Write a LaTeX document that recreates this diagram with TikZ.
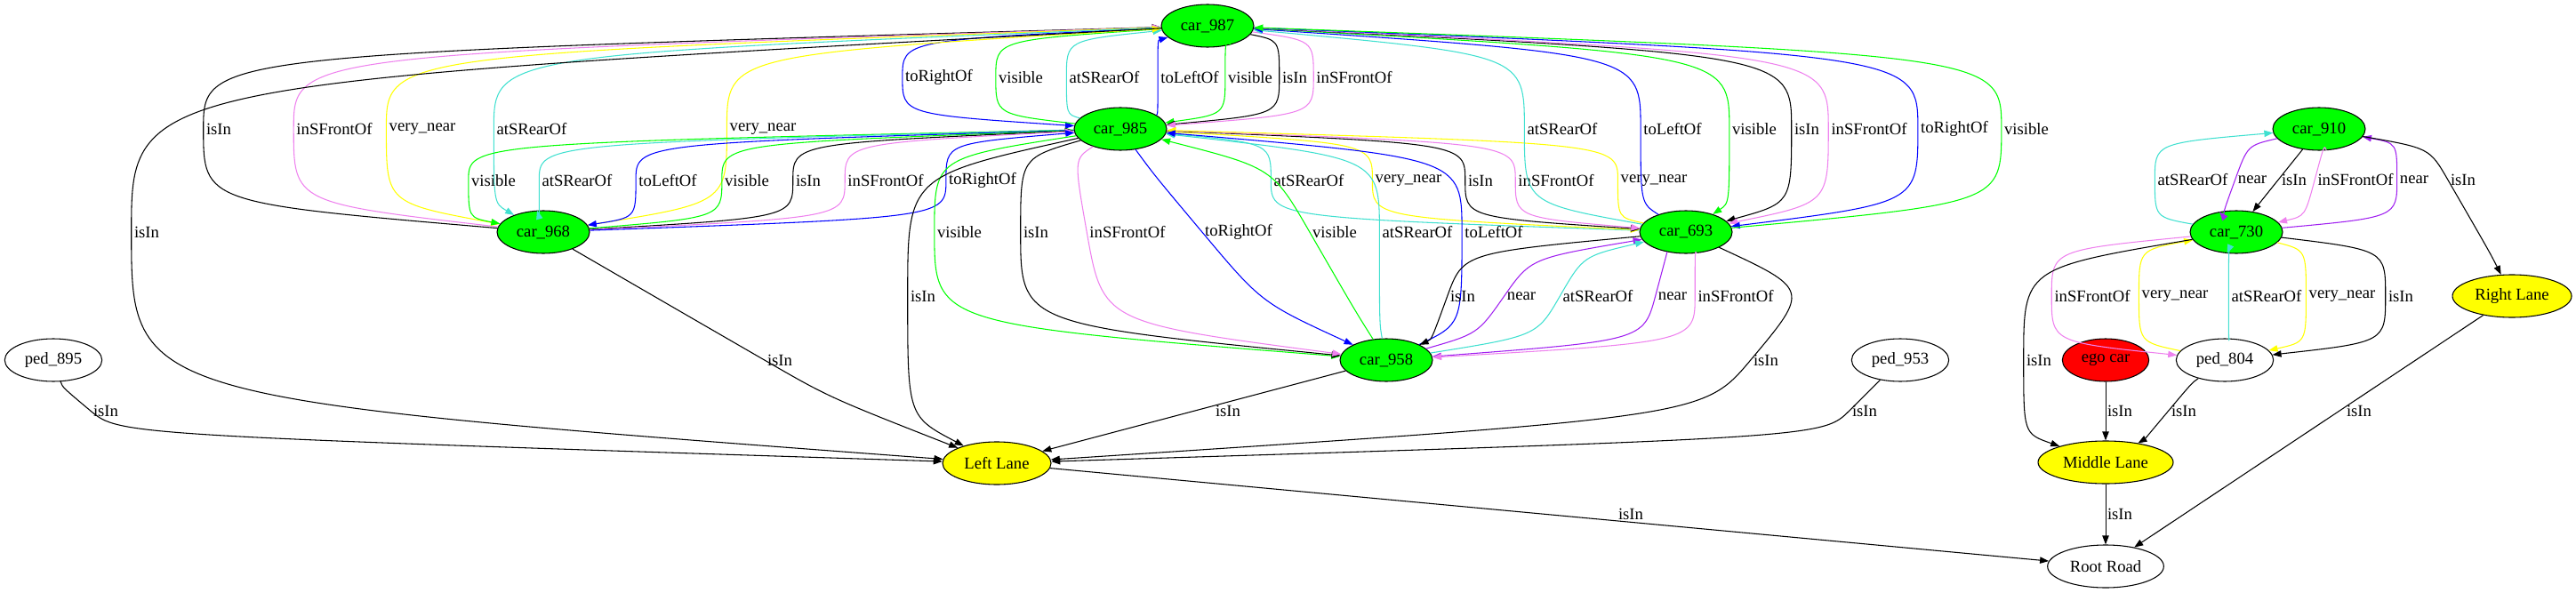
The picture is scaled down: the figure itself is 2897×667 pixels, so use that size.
\documentclass[tikz,border=0pt]{standalone}
\usepackage{fontspec}
\setmainfont{Liberation Serif}
\usetikzlibrary{arrows.meta,shapes.geometric,calc}
\definecolor{gvGreen}{RGB}{0,255,0}
\definecolor{gvYellow}{RGB}{255,255,0}
\definecolor{gvRed}{RGB}{255,0,0}
\definecolor{gvViolet}{RGB}{238,130,238}
\definecolor{gvTurq}{RGB}{64,224,208}
\definecolor{gvPurple}{RGB}{160,32,240}
\definecolor{gvBlue}{RGB}{0,0,255}

% relation edge, bent through the left side of its label
% (optional arg: tilt of the edge where it passes the label)
\newcommand\relEdge[7][0]{%
  \node[lbl] (l-#3-#5) at (#5,#6) {#7};
  \coordinate (v) at ($(l-#3-#5.west)+(-3,0)$);
  \draw[#2] (#3) .. controls ($(v)!.72!#1:(v |- #3)$) .. (v)
    .. controls ($(v)!.72!#1:(v |- #4)$) .. (#4);}
% straight relation edge
\newcommand\relLine[6]{%
  \draw[#1] (#2) -- (#3) node[lbl] (l-#2-#4) at (#4,#5) {#6};}

\begin{document}
\begin{tikzpicture}[x=0.75pt,y=-0.75pt,
    font=\fontsize{14pt}{16pt}\selectfont,
    obj/.style={ellipse,draw=black,line width=0.8pt,minimum height=36pt,inner sep=1pt},
    car/.style={obj,fill=gvGreen,minimum width=78pt},
    ped/.style={obj,minimum width=82pt},
    lane/.style={obj,fill=gvYellow},
    lbl/.style={inner sep=0pt},
    relarrow/.style={-{Triangle[length=7.5pt,width=5.5pt]},line width=0.8pt},
    rIsIn/.style={relarrow,black},
    rFront/.style={relarrow,gvViolet},
    rRear/.style={relarrow,gvTurq},
    rLeft/.style={relarrow,gvBlue},
    rRight/.style={relarrow,gvBlue},
    rVis/.style={relarrow,gvGreen},
    rVNear/.style={relarrow,gvYellow},
    rNear/.style={relarrow,gvPurple}]

  \useasboundingbox (0,0) rectangle (2897,667);

  % ---------- objects ----------
  \node[car] (c987) at (1358,29)  {car\_987};
  \node[car] (c985) at (1260,145) {car\_985};
  \node[car] (c968) at (611,261)  {car\_968};
  \node[car] (c693) at (1896,261) {car\_693};
  \node[car] (c958) at (1559,405) {car\_958};
  \node[car] (c910) at (2608,145) {car\_910};
  \node[car] (c730) at (2515,261) {car\_730};
  \node[ped] (ped895) at (60,405)   {ped\_895};
  \node[ped] (ped953) at (2137,405) {ped\_953};
  \node[ped] (ped804) at (2502,405) {ped\_804};
  \node[obj,fill=gvRed,minimum width=73pt] (ego) at (2368,405) {ego car};
  \node[lane,minimum width=91.5pt] (lleft)  at (1121,521) {Left Lane};
  \node[lane,minimum width=114pt]  (lmid)   at (2368,520) {Middle Lane};
  \node[lane,minimum width=100.5pt] (lright) at (2825,333) {Right Lane};
  \node[obj,minimum width=98pt] (root) at (2368,637) {Root Road};

  % ---------- car_987 / car_985 ----------
  \relEdge{rRight}{c987}{c985}{1056}{87}{toRightOf}
  \relEdge{rVis}{c985}{c987}{1148}{87}{visible}
  \relEdge{rRear}{c985}{c987}{1242}{87}{atSRearOf}
  \relEdge{rLeft}{c985}{c987}{1338}{87}{toLeftOf}
  \relEdge{rVis}{c987}{c985}{1406}{87}{visible}
  \relEdge{rIsIn}{c987}{c985}{1456}{87}{isIn}
  \relEdge{rFront}{c987}{c985}{1523}{87}{inSFrontOf}

  % ---------- car_987 / car_968 ----------
  \relEdge{rIsIn}{c968}{c987}{246}{145}{isIn}
  \relEdge{rFront}{c968}{c987}{376}{145}{inSFrontOf}
  \relEdge{rVNear}{c987}{c968}{475}{145}{very\_near}
  \relEdge{rRear}{c987}{c968}{598}{145}{atSRearOf}
  \relEdge{rVNear}{c968}{c987}{858}{145}{very\_near}
  \relEdge{rIsIn}{c987}{lleft}{165}{261}{isIn}

  % ---------- car_968 / car_985 ----------
  \relEdge{rVis}{c985}{c968}{555}{203}{visible}
  \relEdge{rRear}{c985}{c968}{649}{203}{atSRearOf}
  \relEdge{rLeft}{c985}{c968}{751}{203}{toLeftOf}
  \relEdge{rVis}{c968}{c985}{840}{203}{visible}
  \relEdge{rIsIn}{c968}{c985}{909}{203}{isIn}
  \relEdge{rFront}{c968}{c985}{996}{203}{inSFrontOf}
  \relEdge{rRight}{c968}{c985}{1105}{203}{toRightOf}

  % ---------- car_985 / car_693 ----------
  \relEdge{rRear}{c693}{c985}{1472}{203}{atSRearOf}
  \relEdge{rVNear}{c985}{c693}{1584}{203}{very\_near}
  \relEdge{rIsIn}{c985}{c693}{1665}{203}{isIn}
  \relEdge{rFront}{c985}{c693}{1750}{203}{inSFrontOf}
  \relEdge{rVNear}{c693}{c985}{1860}{203}{very\_near}

  % ---------- car_987 / car_693 ----------
  \relEdge{rRear}{c693}{c987}{1757}{145}{atSRearOf}
  \relEdge{rLeft}{c693}{c987}{1881}{145}{toLeftOf}
  \relEdge{rVis}{c987}{c693}{1973}{145}{visible}
  \relEdge{rIsIn}{c987}{c693}{2032}{145}{isIn}
  \relEdge{rFront}{c987}{c693}{2102}{145}{inSFrontOf}
  \relEdge{rRight}{c987}{c693}{2198}{145}{toRightOf}
  \relEdge{rVis}{c693}{c987}{2279}{145}{visible}

  % ---------- car_985 / car_958 ----------
  \relEdge{rVis}{c985}{c958}{1079}{261}{visible}
  \relEdge{rIsIn}{c985}{c958}{1165}{261}{isIn}
  \relEdge[10]{rFront}{c985}{c958}{1268}{261}{inSFrontOf}
  \relEdge[40]{rRight}{c985}{c958}{1393}{261}{toRightOf}
  \relEdge[30]{rVis}{c958}{c985}{1501}{261}{visible}
  \relEdge{rRear}{c958}{c985}{1594}{261}{atSRearOf}
  \relEdge{rLeft}{c958}{c985}{1680}{261}{toLeftOf}

  % ---------- car_693 / car_958 ----------
  \relEdge[-20]{rIsIn}{c693}{c958}{1645}{333}{isIn}
  \relEdge[-35]{rNear}{c958}{c693}{1711}{333}{near}
  \relEdge[-30]{rRear}{c958}{c693}{1797}{333}{atSRearOf}
  \relEdge[-15]{rNear}{c693}{c958}{1881}{333}{near}
  \relEdge{rFront}{c693}{c958}{1952}{333}{inSFrontOf}

  % ---------- left lane ----------
  \relEdge{rIsIn}{c985}{lleft}{1038}{333}{isIn}
  \relEdge[60]{rIsIn}{c968}{lleft}{877}{405}{isIn}
  \relEdge[-40]{rIsIn}{c693}{lleft}{1986}{405}{isIn}
  \relEdge[50]{rIsIn}{ped895}{lleft}{119}{462}{isIn}
  \relLine{rIsIn}{c958}{lleft}{1381}{462}{isIn}
  \relEdge[-45]{rIsIn}{ped953}{lleft}{2097}{462}{isIn}
  \relLine{rIsIn}{lleft}{root}{1834}{578}{isIn}

  % ---------- car_910 / car_730 ----------
  \relEdge{rRear}{c730}{c910}{2466}{202}{atSRearOf}
  \relEdge[-20]{rNear}{c910}{c730}{2533}{202}{near}
  \relLine{rIsIn}{c910}{c730}{2580}{202}{isIn}
  \relEdge[-15]{rFront}{c910}{c730}{2649}{202}{inSFrontOf}
  \relEdge{rNear}{c730}{c910}{2715}{202}{near}
  \relEdge[30]{rIsIn}{c910}{lright}{2770}{202}{isIn}

  % ---------- car_730 / ped_804 ----------
  \relEdge{rFront}{c730}{ped804}{2353}{333}{inSFrontOf}
  \relEdge{rVNear}{ped804}{c730}{2446}{333}{very\_near}
  \relEdge{rRear}{ped804}{c730}{2549}{333}{atSRearOf}
  \relEdge{rVNear}{c730}{ped804}{2634}{333}{very\_near}
  \relEdge{rIsIn}{c730}{ped804}{2700}{333}{isIn}

  % ---------- middle and right lane ----------
  \relEdge{rIsIn}{c730}{lmid}{2293}{405}{isIn}
  \relLine{rIsIn}{ego}{lmid}{2384}{462}{isIn}
  \relEdge[-40]{rIsIn}{ped804}{lmid}{2456}{462}{isIn}
  \relLine{rIsIn}{lmid}{root}{2384}{578}{isIn}
  \relLine{rIsIn}{lright}{root}{2653}{462}{isIn}
\end{tikzpicture}
\end{document}
